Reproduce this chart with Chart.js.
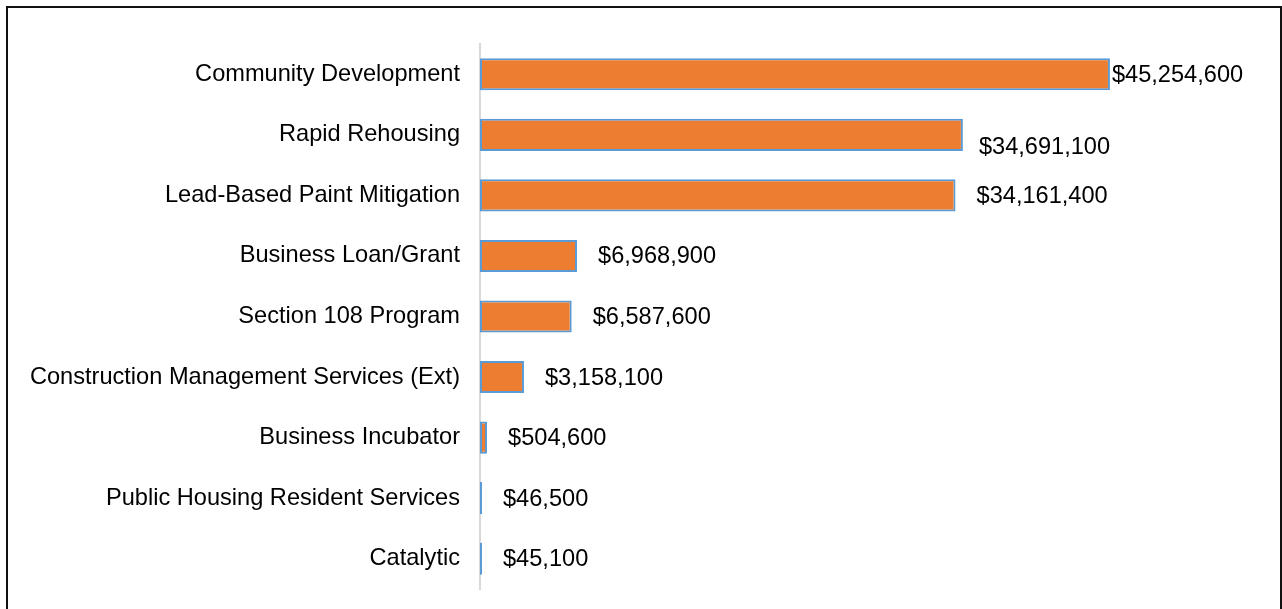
<!DOCTYPE html>
<html>
<head>
<meta charset="utf-8">
<script src="https://cdn.jsdelivr.net/npm/chart.js@4/dist/chart.umd.min.js"></script>
<style>
  html, body { margin: 0; padding: 0; background: #ffffff; overflow: hidden; }
  #wrap { position: absolute; left: 0; top: 0; width: 1282px; height: 609px; }
  #frame { position: absolute; left: 6px; top: 6px; width: 1272px; height: 700px;
           border: 2px solid #111; border-bottom: none; pointer-events: none; }
</style>
</head>
<body>
<div id="wrap"><canvas id="c" width="1282" height="609"></canvas></div>
<div id="frame"></div>
<script>
const categories = [
  "Community Development",
  "Rapid Rehousing",
  "Lead-Based Paint Mitigation",
  "Business Loan/Grant",
  "Section 108 Program",
  "Construction Management Services (Ext)",
  "Business Incubator",
  "Public Housing Resident Services",
  "Catalytic"
];
const fundingValues = [45254600, 34691100, 34161400, 6968900, 6587600, 3158100, 504600, 46500, 45100];
const xAxisMin = 0;
const xAxisMax = 50000000;

// label placement tweaks (style only)
const labelGap = 21;
const labelNudges = [{dx: -19, dy: 0}, {dx: -5, dy: 12}];

const FONT = '"Liberation Sans", Arial, Helvetica, sans-serif';
const FONT_SIZE = 23.6;

const valueLabels = {
  id: 'valueLabels',
  afterDatasetsDraw(chart) {
    const ctx = chart.ctx;
    const meta = chart.getDatasetMeta(0);
    ctx.save();
    ctx.font = FONT_SIZE + 'px ' + FONT;
    ctx.fillStyle = '#000';
    ctx.textAlign = 'left';
    ctx.textBaseline = 'middle';
    meta.data.forEach((bar, i) => {
      const v = chart.data.datasets[0].data[i];
      const n = labelNudges[i] || {dx: 0, dy: 0};
      ctx.fillText('$' + v.toLocaleString('en-US'), bar.base + (bar.x - bar.base) + labelGap + n.dx, bar.y + n.dy + 1);
    });
    ctx.restore();
  }
};

new Chart(document.getElementById('c'), {
  type: 'bar',
  data: {
    labels: categories,
    datasets: [{
      data: fundingValues,
      backgroundColor: '#ED7D31',
      borderColor: '#5B9BD5',
      borderWidth: 2,
      borderSkipped: false,
      minBarLength: 2,
      barPercentage: 0.53,
      categoryPercentage: 1
    }]
  },
  options: {
    indexAxis: 'y',
    responsive: false,
    animation: false,
    devicePixelRatio: 1,
    layout: { padding: { top: 44, bottom: 20, left: 0, right: 106 } },
    plugins: { legend: { display: false }, tooltip: { enabled: false } },
    scales: {
      x: { display: false, min: xAxisMin, max: xAxisMax },
      y: {
        afterFit(scale) { scale.width = 480; scale.paddingTop = 0; scale.paddingBottom = 0; },
        grid: { display: false, drawTicks: false },
        border: { display: true, color: '#D9D9D9', width: 2 },
        ticks: { color: '#000', padding: 20, font: { family: FONT, size: FONT_SIZE } }
      }
    }
  },
  plugins: [valueLabels]
});
</script>
</body>
</html>
